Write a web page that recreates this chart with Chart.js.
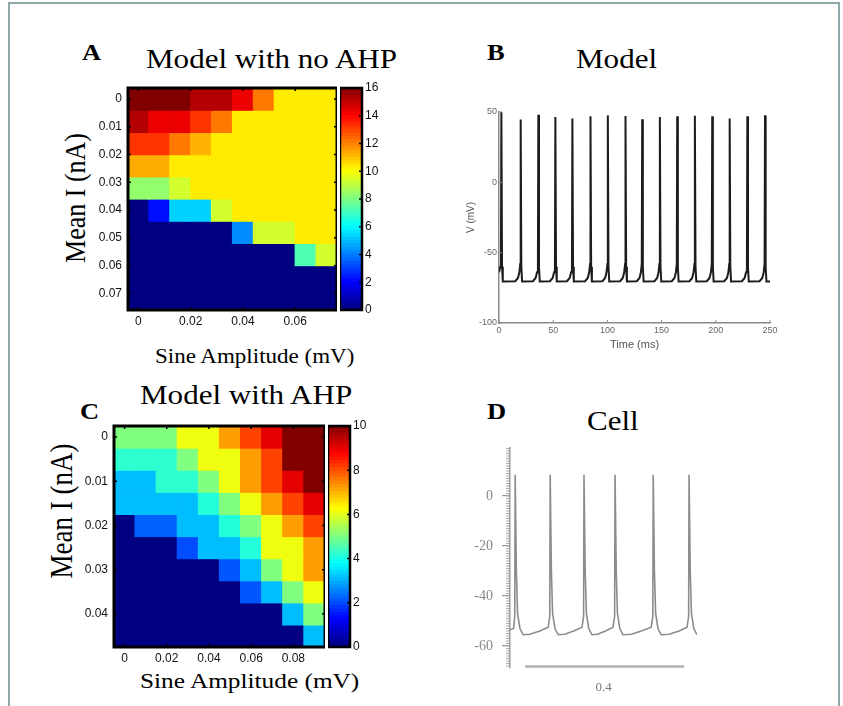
<!DOCTYPE html>
<html>
<head>
<meta charset="utf-8">
<script src="https://cdn.jsdelivr.net/npm/chart.js@4.4.1/dist/chart.umd.min.js"></script>
<style>
  body { margin: 0; background: #fff; }
  #fig { position: relative; width: 843px; height: 706px; overflow: hidden; background: #fff; }
  #frame { position: absolute; left: 8px; top: 2px; width: 828px; height: 740px; border: 2px solid #8fa9a9; border-bottom: none; }
  canvas { position: absolute; }
  .txt { position: absolute; font-family: 'Liberation Serif', 'Times New Roman', serif; line-height: 1;
         white-space: nowrap; transform-origin: 0 0; transform: scaleX(1.15); color: #000; }
  .letter { font-weight: bold; font-size: 23px; }
  .title { font-size: 27px; }
  .vert { position: absolute; font-family: 'Liberation Serif', 'Times New Roman', serif; line-height: 1;
          white-space: nowrap; font-size: 26px; transform: translate(-50%, -50%) rotate(-90deg) scaleY(1.15); }
</style>
</head>
<body>
<div id="fig">
  <div id="frame"></div>

  <div class="txt letter" style="left:82px; top:41px;">A</div>
  <div class="txt title" style="left:146px; top:46px;">Model with no AHP</div>
  <div class="txt letter" style="left:487px; top:41px;">B</div>
  <div class="txt title" style="left:576px; top:46px;">Model</div>
  <div class="txt letter" style="left:80px; top:400px;">C</div>
  <div class="txt title" style="left:140px; top:382px;">Model with AHP</div>
  <div class="txt letter" style="left:487px; top:400px;">D</div>
  <div class="txt title" style="left:587px; top:408px;">Cell</div>

  <div class="vert" style="left:76px; top:198px;">Mean I (nA)</div>
  <div class="txt" style="left:155px; top:346px; font-size:20px;">Sine Amplitude (mV)</div>
  <div class="vert" style="left:62px; top:511px; font-size:27px;">Mean I (nA)</div>
  <div class="txt" style="left:140px; top:670px; font-size:22px;">Sine Amplitude (mV)</div>

  <canvas id="heatA" width="257" height="252" style="left:80px; top:80px;"></canvas>
  <canvas id="barA" width="46" height="238" style="left:340px; top:80px;"></canvas>
  <canvas id="trace" width="333" height="253" style="left:449px; top:104px;"></canvas>
  <canvas id="heatC" width="259" height="251" style="left:66px; top:418px;"></canvas>
  <canvas id="barC" width="46" height="237" style="left:328px; top:418px;"></canvas>
  <canvas id="cell" width="237" height="258" style="left:460px; top:440px;"></canvas>
</div>

<script>
// A: model without AHP, spike count per sine amplitude (columns) and mean current (rows)
const ampA = [0, 0.008, 0.016, 0.024, 0.032, 0.040, 0.048, 0.056, 0.064, 0.072];
const currA = [0, 0.008, 0.016, 0.024, 0.032, 0.040, 0.048, 0.056, 0.064, 0.072];
const rateA = [
  [16, 16, 16, 15.2, 15.2, 14.3, 12.1, 10.3, 10.3, 10.3],
  [15.2, 14.3, 14.3, 13.2, 12.1, 10.3, 10.3, 10.3, 10.3, 10.3],
  [13.2, 13.2, 12.1, 11.2, 10.3, 10.3, 10.3, 10.3, 10.3, 10.3],
  [11.3, 11.3, 10.3, 10.3, 10.3, 10.3, 10.3, 10.3, 10.3, 10.3],
  [8.3, 8.3, 9.3, 10.3, 10.3, 10.3, 10.3, 10.3, 10.3, 10.3],
  [0, 2.2, 5.3, 5.3, 9.3, 10.3, 10.3, 10.3, 10.3, 10.3],
  [0, 0, 0, 0, 0, 4.2, 9.3, 9.3, 10.3, 10.3],
  [0, 0, 0, 0, 0, 0, 0, 0, 7.2, 9.3],
  [0, 0, 0, 0, 0, 0, 0, 0, 0, 0],
  [0, 0, 0, 0, 0, 0, 0, 0, 0, 0]
];
const ampTicksA = [0, 0.02, 0.04, 0.06];
const currTicksA = [0, 0.01, 0.02, 0.03, 0.04, 0.05, 0.06, 0.07];

// C: model with AHP
const ampC = [0, 0.01, 0.02, 0.03, 0.04, 0.05, 0.06, 0.07, 0.08, 0.09];
const currC = [0, 0.005, 0.01, 0.015, 0.02, 0.025, 0.03, 0.035, 0.04, 0.045];
const rateC = [
  [5, 5, 5, 6.1, 6.1, 7.2, 8.1, 9, 10, 10],
  [4.2, 4.2, 4.2, 5, 6.1, 6.1, 7.2, 8.1, 10, 10],
  [3.1, 3.1, 4.2, 4.2, 5, 6.1, 7.2, 8.1, 9, 10],
  [3.1, 3.1, 3.1, 3.1, 4.1, 5, 6.1, 7.2, 8.1, 9],
  [0, 2.2, 2.2, 3.1, 3.1, 4.1, 5, 6.1, 7.2, 8.1],
  [0, 0, 0, 2, 3.1, 3.1, 4.1, 6.1, 6.1, 7.2],
  [0, 0, 0, 0, 0, 2.1, 3.1, 5, 6.1, 7.2],
  [0, 0, 0, 0, 0, 0, 2.1, 3.1, 5, 6.1],
  [0, 0, 0, 0, 0, 0, 0, 0, 3.1, 5],
  [0, 0, 0, 0, 0, 0, 0, 0, 0, 3.1]
];
const ampTicksC = [0, 0.02, 0.04, 0.06, 0.08];
const currTicksC = [0, 0.01, 0.02, 0.03, 0.04];

// B: simulated membrane potential (ms, mV)
const modelT = [
  0, 1.2, 1.8, 2.2, 2.8, 3.5,
  15.0, 17.5, 18.8, 19.6, 20.0, 20.6, 21.3,
  31.3, 33.8, 35.1, 35.9, 36.3, 36.9, 37.6,
  47.0, 49.5, 50.8, 51.6, 52.0, 52.6, 53.3,
  62.7, 65.2, 66.5, 67.3, 67.7, 68.3, 69.0,
  79.4, 81.9, 83.2, 84.0, 84.4, 85.0, 85.7,
  95.4, 97.9, 99.2, 100.0, 100.4, 101.0, 101.7,
  111.7, 114.2, 115.5, 116.3, 116.7, 117.3, 118.0,
  127.1, 129.6, 130.9, 131.7, 132.1, 132.7, 133.4,
  143.4, 145.9, 147.2, 148.0, 148.4, 149.0, 149.7,
  159.4, 161.9, 163.2, 164.0, 164.4, 165.0, 165.7,
  175.7, 178.2, 179.5, 180.3, 180.7, 181.3, 182.0,
  191.7, 194.2, 195.5, 196.3, 196.7, 197.3, 198.0,
  207.8, 210.3, 211.6, 212.4, 212.8, 213.4, 214.1,
  224.1, 226.6, 227.9, 228.7, 229.1, 229.7, 230.4,
  240.4, 242.9, 244.2, 245.0, 245.4, 246.0, 246.7, 250
];
const modelV = [
  -64, -60, -55, 50, -60, -70.5,
  -70.3, -68, -64, -58, 44.6, -60, -70.5,
  -70.3, -68, -64, -58, 48.1, -60, -70.5,
  -70.3, -68, -64, -58, 46.5, -60, -70.5,
  -70.3, -68, -64, -58, 45.3, -60, -70.5,
  -70.3, -68, -64, -58, 46.9, -60, -70.5,
  -70.3, -68, -64, -58, 47.6, -60, -70.5,
  -70.3, -68, -64, -58, 47.2, -60, -70.5,
  -70.3, -68, -64, -58, 44.8, -60, -70.5,
  -70.3, -68, -64, -58, 46.5, -60, -70.5,
  -70.3, -68, -64, -58, 46.9, -60, -70.5,
  -70.3, -68, -64, -58, 47.4, -60, -70.5,
  -70.3, -68, -64, -58, 46.9, -60, -70.5,
  -70.3, -68, -64, -58, 45.3, -60, -70.5,
  -70.3, -68, -64, -58, 46.9, -60, -70.5,
  -70.3, -68, -64, -58, 47.6, -60, -70.5, -70.5
];

// D: recorded cell (s, mV) and the 0.4 s scale bar
const cellT = [
  0.000, 0.009, 0.012, 0.013, 0.016, 0.019, 0.025, 0.033, 0.050, 0.075,
  0.096, 0.100, 0.101, 0.104, 0.107, 0.113, 0.121, 0.138, 0.160,
  0.181, 0.185, 0.186, 0.189, 0.192, 0.198, 0.206, 0.220, 0.240,
  0.259, 0.263, 0.264, 0.267, 0.270, 0.276, 0.284, 0.305, 0.330,
  0.355, 0.359, 0.360, 0.363, 0.366, 0.372, 0.380, 0.400, 0.425,
  0.445, 0.449, 0.450, 0.453, 0.456, 0.462, 0.470
];
const cellV = [
  -53.5, -53, -48, 8.5, -30, -47, -53, -55.5, -55.3, -54,
  -52.5, -48, 8.5, -30, -47, -53, -55.5, -55.3, -54,
  -52.5, -48, 8.5, -30, -47, -53, -55.5, -55.3, -54,
  -52.5, -48, 8.5, -30, -47, -53, -55.5, -55.3, -54,
  -52.5, -48, 8.5, -30, -47, -53, -55.5, -55.3, -54,
  -52.5, -48, 8.5, -30, -47, -53, -55.5
];
const scaleBarT = [0.038, 0.438];
const scaleBarV = [-68.2, -68.2];
const cellRange = [-68.8, 19.2];

const sans = 'Liberation Sans, Arial, sans-serif';
const serif = 'Liberation Serif, Times New Roman, serif';

// MATLAB-style jet colormap, t in [0, 1]
function jet(t) {
  t = Math.max(0, Math.min(1, t));
  const c = v => Math.round(255 * Math.max(0, Math.min(1, v)));
  return `rgb(${c(Math.min(4 * t - 1.5, -4 * t + 4.5))},${c(Math.min(4 * t - 0.5, -4 * t + 3.5))},${c(Math.min(4 * t + 0.5, -4 * t + 2.5))})`;
}

// box around the plot area plus short tick marks (positive length = inward)
const frame = {
  id: 'frame',
  afterDatasetsDraw(chart, args, opts) {
    const { ctx, chartArea: a, scales } = chart;
    ctx.save();
    ctx.strokeStyle = opts.color || '#000';
    if (opts.box) {
      ctx.lineWidth = opts.width;
      ctx.strokeRect(a.left, a.top, a.right - a.left, a.bottom - a.top);
    }
    ctx.lineWidth = opts.tickWidth || 1;
    ctx.beginPath();
    (opts.xSides || []).forEach(side => {
      const y0 = side === 'top' ? a.top : a.bottom;
      const dir = side === 'top' ? 1 : -1;
      scales.x.ticks.forEach(t => {
        const px = scales.x.getPixelForValue(t.value);
        ctx.moveTo(px, y0);
        ctx.lineTo(px, y0 + dir * opts.tick);
      });
    });
    (opts.ySides || []).forEach(side => {
      const x0 = side === 'left' ? a.left : a.right;
      const dir = side === 'left' ? 1 : -1;
      scales.y.ticks.forEach(t => {
        const py = scales.y.getPixelForValue(t.value);
        ctx.moveTo(x0, py);
        ctx.lineTo(x0 + dir * opts.tick, py);
      });
    });
    ctx.stroke();
    ctx.restore();
  }
};

const fmtTick = v => (v === 0 ? '0' : v.toFixed(2));
const noGrid = { display: false, drawTicks: false };
// fixed axis sizes, no extra label padding so the plot areas line up
const fixY = w => s => { s.width = w; s.paddingTop = 0; s.paddingBottom = 0; };
const fixX = h => s => { s.height = h; s.paddingLeft = 0; s.paddingRight = 0; };

function heatmap(id, amps, currs, rates, vmax, xTicks, yTicks) {
  const dx = (amps[1] - amps[0]) / 2;
  const dy = (currs[1] - currs[0]) / 2;
  const datasets = currs.map((c, i) => ({
    data: amps.map(a => ({ x: a, y: [c - dy, c + dy] })),
    backgroundColor: rates[i].map(v => jet(v / vmax)),
    borderWidth: 0,
    inflateAmount: 0.6,
    grouped: false,
    barPercentage: 1,
    categoryPercentage: 1
  }));
  return new Chart(document.getElementById(id), {
    type: 'bar',
    data: { datasets },
    options: {
      responsive: false,
      animation: false,
      devicePixelRatio: 1,
      layout: { padding: { top: 8 } },
      plugins: {
        legend: { display: false },
        tooltip: { enabled: false },
        frame: { box: true, width: 3, tick: 3, tickWidth: 1.5, xSides: ['top', 'bottom'], ySides: ['left', 'right'] }
      },
      scales: {
        x: {
          type: 'linear', offset: false,
          min: amps[0] - dx, max: amps[amps.length - 1] + dx,
          afterBuildTicks: s => { s.ticks = xTicks.map(value => ({ value })); },
          afterFit: fixX(22),
          grid: noGrid, border: { display: false },
          ticks: { padding: 4, color: '#111', font: { family: sans, size: 12 }, maxRotation: 0, autoSkip: false, callback: fmtTick }
        },
        y: {
          reverse: true,
          min: currs[0] - dy, max: currs[currs.length - 1] + dy,
          afterBuildTicks: s => { s.ticks = yTicks.map(value => ({ value })); },
          afterFit: fixY(48),
          grid: noGrid, border: { display: false },
          ticks: { padding: 6, color: '#111', font: { family: sans, size: 12 }, autoSkip: false, callback: fmtTick }
        }
      }
    },
    plugins: [frame]
  });
}

function colorbar(id, vmax, step) {
  const n = 64;
  const datasets = [];
  for (let k = 0; k < n; k++) {
    datasets.push({
      data: [[k * vmax / n, (k + 1) * vmax / n]],
      backgroundColor: jet((k + 0.5) / n),
      borderWidth: 0, inflateAmount: 0.6, grouped: false, barPercentage: 1, categoryPercentage: 1
    });
  }
  return new Chart(document.getElementById(id), {
    type: 'bar',
    data: { labels: [''], datasets },
    options: {
      responsive: false,
      animation: false,
      devicePixelRatio: 1,
      layout: { padding: { top: 8, bottom: 8 } },
      plugins: {
        legend: { display: false },
        tooltip: { enabled: false },
        frame: { box: true, width: 2.5, tick: 3, tickWidth: 1.5, ySides: ['right'] }
      },
      scales: {
        x: { display: false },
        y: {
          position: 'right', min: 0, max: vmax,
          afterFit: fixY(24),
          grid: noGrid, border: { display: false },
          ticks: { stepSize: step, padding: 3, color: '#111', font: { family: sans, size: 12 } }
        }
      }
    },
    plugins: [frame]
  });
}

heatmap('heatA', ampA, currA, rateA, 16, ampTicksA, currTicksA);
colorbar('barA', 16, 2);
heatmap('heatC', ampC, currC, rateC, 10, ampTicksC, currTicksC);
colorbar('barC', 10, 2);

// B: model voltage trace
new Chart(document.getElementById('trace'), {
  type: 'line',
  data: {
    datasets: [{
      data: modelT.map((t, i) => ({ x: t, y: modelV[i] })),
      borderColor: '#1c1c1c', borderWidth: 2, pointRadius: 0, tension: 0
    }]
  },
  options: {
    responsive: false,
    animation: false,
    devicePixelRatio: 1,
    layout: { padding: { top: 8, right: 12 } },
    plugins: {
      legend: { display: false },
      tooltip: { enabled: false },
      frame: { box: false, color: '#8a8a8a', tick: 3, tickWidth: 1, xSides: ['bottom'], ySides: ['left'] }
    },
    scales: {
      x: {
        type: 'linear', min: 0, max: 250,
        afterFit: fixX(34),
        grid: noGrid,
        border: { display: true, color: '#8a8a8a', width: 1.5 },
        ticks: { stepSize: 50, padding: 2, color: '#666', font: { family: sans, size: 9 }, maxRotation: 0 },
        title: { display: true, text: 'Time (ms)', color: '#555', font: { family: sans, size: 11 }, padding: { bottom: 5 } }
      },
      y: {
        min: -100, max: 50,
        afterFit: fixY(50),
        grid: noGrid,
        border: { display: true, color: '#8a8a8a', width: 1.5 },
        ticks: { stepSize: 50, padding: 2, color: '#666', font: { family: sans, size: 9 } },
        title: { display: true, text: 'V (mV)', color: '#555', font: { family: sans, size: 10 }, padding: { top: 16 } }
      }
    }
  },
  plugins: [frame]
});

// D: recorded voltage trace with time scale bar; ruler ticks every 1 mV
new Chart(document.getElementById('cell'), {
  type: 'line',
  data: {
    datasets: [{
      data: cellT.map((t, i) => ({ x: t, y: cellV[i] })),
      borderColor: '#8c8c8c', borderWidth: 1.6, pointRadius: 0, tension: 0
    }, {
      data: scaleBarT.map((t, i) => ({ x: t, y: scaleBarV[i] })),
      borderColor: '#b0b0b0', borderWidth: 2.5, pointRadius: 0
    }]
  },
  options: {
    responsive: false,
    animation: false,
    devicePixelRatio: 1,
    layout: { padding: { top: 8 } },
    plugins: {
      legend: { display: false },
      tooltip: { enabled: false },
      frame: { box: false, color: '#a8a8a8', tick: -4, tickWidth: 1, ySides: ['left'] }
    },
    scales: {
      x: {
        type: 'linear', min: 0, max: 0.47,
        afterFit: fixX(30),
        grid: noGrid, border: { display: false },
        ticks: { display: false },
        title: { display: true, text: '0.4', color: '#777', font: { family: serif, size: 13 }, padding: { bottom: 3 } }
      },
      y: {
        min: cellRange[0], max: cellRange[1],
        afterBuildTicks: s => {
          const ticks = [];
          for (let v = Math.ceil(cellRange[0]); v <= Math.floor(cellRange[1]); v++) ticks.push({ value: v });
          s.ticks = ticks;
        },
        afterFit: fixY(50),
        grid: {
          display: true, drawOnChartArea: false, tickLength: 8, lineWidth: 1.2,
          color: c => (c.tick && c.tick.value % 20 === 0 ? '#999' : 'rgba(0,0,0,0)')
        },
        border: { display: true, color: '#999', width: 1.5 },
        ticks: {
          autoSkip: false, padding: 9, color: '#888', font: { family: serif, size: 14 },
          callback: v => (v % 20 === 0 ? String(v) : '')
        }
      }
    }
  },
  plugins: [frame]
});
</script>
</body>
</html>
